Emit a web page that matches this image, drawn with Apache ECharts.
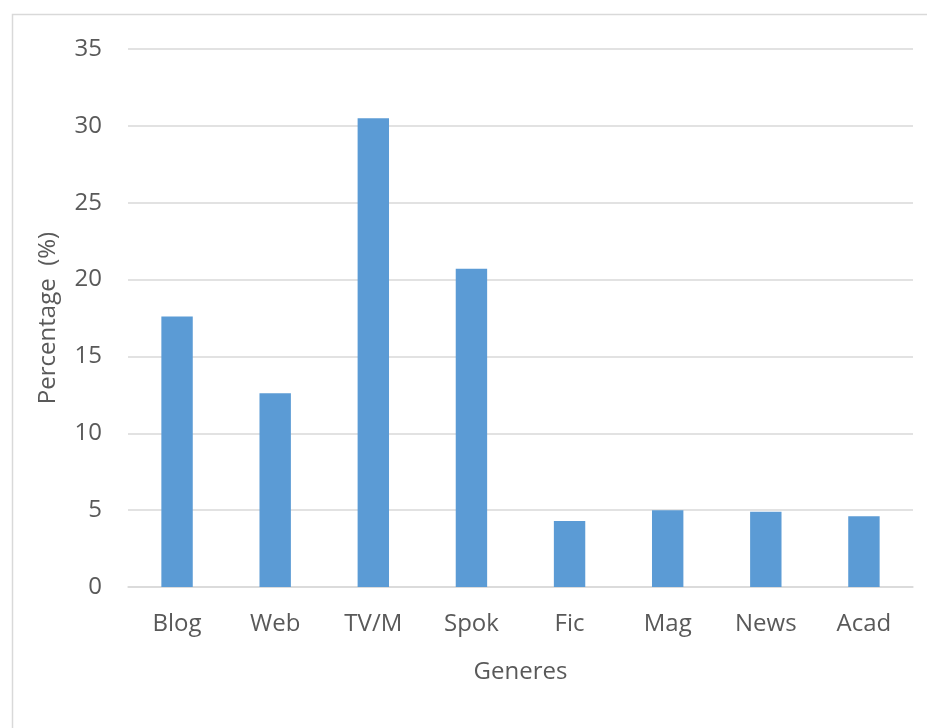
<!DOCTYPE html>
<html><head><meta charset="utf-8">
<script src="https://cdn.jsdelivr.net/npm/echarts@6/dist/echarts.min.js"></script>
<style>html,body{margin:0;padding:0;background:#fff}#c{width:927px;height:728px}</style>
</head><body><div id="c"></div>
<script>
const categories = ["Blog", "Web", "TV/M", "Spok", "Fic", "Mag", "News", "Acad"];
const percentages = [17.6, 12.6, 30.5, 20.7, 4.3, 5.0, 4.9, 4.6];
const yTicks = [0, 5, 10, 15, 20, 25, 30, 35];

const FONT = '"Open Sans", "Noto Sans", sans-serif';
const chart = echarts.init(document.getElementById('c'), null, {renderer: 'canvas'});
chart.setOption({
  animation: false,
  backgroundColor: '#fff',
  graphic: [{
    type: 'rect', left: 10, top: 12, silent: true,
    shape: {x: 0, y: 0, width: 1000, height: 1000},
    style: {fill: 'none', stroke: '#d9d9d9', lineWidth: 1.5}
  }],
  grid: {left: 128, right: 14, top: 49, bottom: 141},
  xAxis: {
    type: 'category', data: categories,
    name: 'Generes', nameLocation: 'middle', nameGap: 73,
    nameTextStyle: {fontFamily: FONT, fontSize: 24, color: '#595959'},
    axisLine: {lineStyle: {color: '#d9d9d9', width: 1.5}},
    axisTick: {show: false},
    axisLabel: {fontFamily: FONT, fontSize: 24, color: '#595959', margin: 25}
  },
  yAxis: {
    type: 'value', min: yTicks[0], max: yTicks[yTicks.length - 1], interval: 5,
    name: 'Percentage  (%)', nameLocation: 'middle', nameGap: 68,
    nameTextStyle: {fontFamily: FONT, fontSize: 24, color: '#595959'},
    axisLine: {show: false}, axisTick: {show: false},
    splitLine: {lineStyle: {color: '#d9d9d9', width: 1.5}},
    axisLabel: {fontFamily: FONT, fontSize: 24, color: '#595959', margin: 26}
  },
  series: [{
    type: 'bar', data: percentages, barWidth: '32%',
    itemStyle: {color: '#5b9bd5'}
  }]
});
</script></body></html>
